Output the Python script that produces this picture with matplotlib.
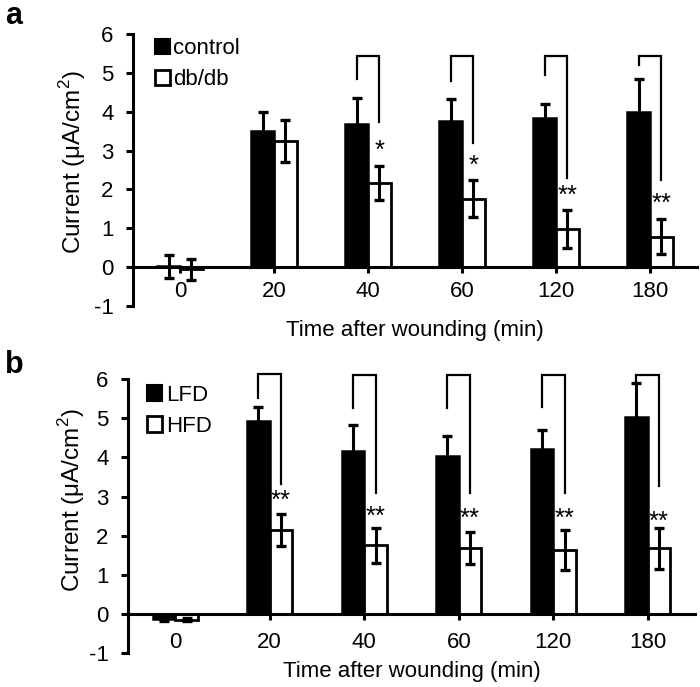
import matplotlib
matplotlib.use("Agg")
import matplotlib.pyplot as plt
from matplotlib.patches import Patch
import numpy as np

plt.rcParams['font.family'] = ['Liberation Sans', 'DejaVu Sans']
plt.rcParams['axes.unicode_minus'] = False
plt.rcParams['mathtext.fontset'] = 'custom'
plt.rcParams['mathtext.rm'] = 'Liberation Sans'

categories = ['0', '20', '40', '60', '120', '180']

# Panel a
a_control = [0.02, 3.50, 3.68, 3.76, 3.85, 4.00]
a_control_err = [0.30, 0.49, 0.68, 0.57, 0.34, 0.85]
a_dbdb = [-0.06, 3.24, 2.17, 1.76, 0.98, 0.78]
a_dbdb_err = [0.26, 0.54, 0.43, 0.48, 0.49, 0.45]
a_sig = ['', '', '*', '*', '**', '**']
a_sig_y = [0, 0, 3.12, 2.72, 1.95, 1.76]
a_br_top = [0, 0, 5.43, 5.43, 5.43, 5.43]
a_br_left = [0, 0, 4.84, 4.80, 4.95, 5.19]
a_br_right = [0, 0, 3.73, 3.19, 2.29, 2.23]

# Panel b
b_lfd = [-0.13, 4.93, 4.17, 4.03, 4.23, 5.04]
b_lfd_err = [0.05, 0.37, 0.66, 0.52, 0.47, 0.86]
b_hfd = [-0.15, 2.14, 1.75, 1.69, 1.64, 1.67]
b_hfd_err = [0.05, 0.40, 0.45, 0.41, 0.51, 0.53]
b_sig = ['', '**', '**', '**', '**', '**']
b_sig_y = [0, 3.02, 2.61, 2.55, 2.55, 2.48]
b_br_top = [0, 6.13, 6.11, 6.11, 6.11, 6.11]
b_br_left = [0, 5.53, 5.27, 5.28, 5.30, 5.94]
b_br_right = [0, 3.33, 3.09, 3.08, 3.09, 3.26]

fig = plt.figure(figsize=(7.0, 6.87), dpi=100)
ax_a = fig.add_axes([133/700, 1-306/687, 564/700, 272/687])
ax_b = fig.add_axes([128/700, 1-652.7/687, 567/700, 273.3/687])

W = 0.24
FS = 16

def draw(ax, v1, e1, v2, e2, sig, sig_y, br_top, br_left, br_right, labels,
         xpad, xlab_y, ylab_xy, leg_xy):
    x = np.arange(len(categories))
    ax.bar(x - W/2, v1, W, color='black', edgecolor='black', linewidth=1.8, zorder=2)
    ax.bar(x + W/2, v2, W, color='white', edgecolor='black', linewidth=2.0, zorder=2)
    ax.errorbar(x - W/2, v1, yerr=e1, fmt='none', ecolor='black', elinewidth=2.2,
                capsize=3.6, capthick=2.4, zorder=3)
    ax.errorbar(x + W/2, v2, yerr=e2, fmt='none', ecolor='black', elinewidth=2.2,
                capsize=3.6, capthick=2.4, zorder=3)
    for i in range(len(categories)):
        if sig[i]:
            xl, xr = i - W/2, i + W/2
            ax.plot([xl, xl, xr, xr], [br_left[i], br_top[i], br_top[i], br_right[i]],
                    color='black', lw=1.6, solid_joinstyle='miter', zorder=3,
                    clip_on=False)
            ax.annotate(sig[i], (xr, sig_y[i]), xytext=(0, -3.5),
                        textcoords='offset points', ha='center', va='center',
                        fontsize=FS + 2.5, zorder=4)
    ax.set_xlim(-0.5, 5.5)
    ax.set_ylim(-1, 6)
    ax.set_yticks(range(-1, 7))
    ax.set_xticks(x)
    ax.set_xticklabels(categories)
    for s in ['top', 'right']:
        ax.spines[s].set_visible(False)
    ax.spines['bottom'].set_position(('data', 0))
    ax.spines['bottom'].set_linewidth(2.2)
    ax.spines['left'].set_linewidth(2.2)
    ax.tick_params(axis='both', labelsize=FS, width=2.2, direction='out')
    ax.tick_params(axis='x', pad=xpad, length=4)
    ax.tick_params(axis='y', pad=9, length=5)
    ax.set_ylabel('Current (μA/cm$^2$)', fontsize=FS + 1.5)
    ax.set_xlabel('Time after wounding (min)', fontsize=FS)
    ax.xaxis.label.set_va('center')
    ax.xaxis.set_label_coords(0.5, xlab_y)
    ax.yaxis.label.set_va('center')
    ax.yaxis.set_label_coords(*ylab_xy)
    handles = [Patch(facecolor='black', edgecolor='black', linewidth=1.5),
               Patch(facecolor='white', edgecolor='black', linewidth=2)]
    ax.legend(handles, labels, loc='upper left', bbox_to_anchor=leg_xy,
              frameon=False, fontsize=FS, handlelength=0.68, handleheight=0.68,
              handletextpad=0.15, labelspacing=0.45, borderaxespad=0, borderpad=0)

draw(ax_a, a_control, a_control_err, a_dbdb, a_dbdb_err, a_sig, a_sig_y,
     a_br_top, a_br_left, a_br_right, ['control', 'db/db'],
     6, -0.09, (-0.108, 0.53), (0.039, 0.985))
draw(ax_b, b_lfd, b_lfd_err, b_hfd, b_hfd_err, b_sig, b_sig_y,
     b_br_top, b_br_left, b_br_right, ['LFD', 'HFD'],
     9, -0.068, (-0.099, 0.56), (0.034, 0.98))

fig.text(5/700, 1-24/687, 'a', fontsize=22, fontweight='bold', ha='left', va='baseline')
fig.text(5/700, 1-373/687, 'b', fontsize=22, fontweight='bold', ha='left', va='baseline')

fig.savefig('out.png', dpi=100)
